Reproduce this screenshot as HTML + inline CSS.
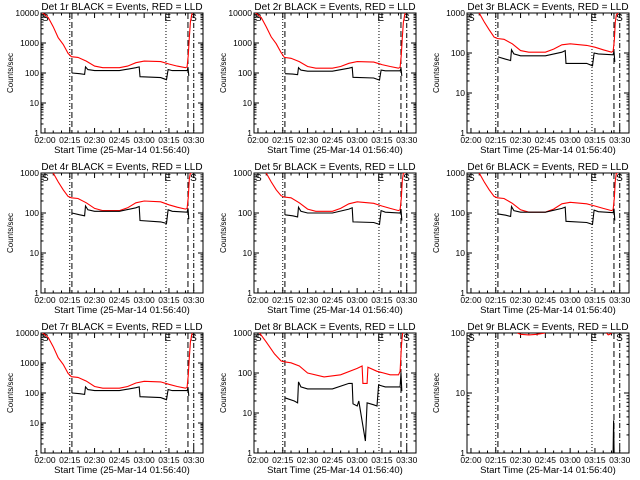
<!DOCTYPE html>
<html><head><meta charset="utf-8"><style>
html,body{margin:0;padding:0;background:#fff;}
svg{display:block;font-family:"Liberation Sans",sans-serif;}
</style></head><body>
<svg id="chart" width="640" height="480" viewBox="0 0 640 480" xmlns="http://www.w3.org/2000/svg"></svg>
<script>
// shared time arrays (minutes after 02:00)
const redT   = [-2.4,-1.3,2,5,8,11,14,16,20,25,30,35,45,50,55,60,70,75,80,85,86,86.7,87.3,88,89];
const blackT = [16.3,21,24,24.5,26,30,45,55,57,57.5,70,73.5,74.5,77,86,86.5,87];
const titles = ["Det 1r","Det 2r","Det 3r","Det 4r","Det 5r","Det 6r","Det 7r","Det 8r","Det 9r"];
const yDecades = [4,4,3,3,3,3,4,3,2];
const red1 = [12000,10000,7000,3500,1500,900,450,350,330,250,170,150,150,170,220,250,240,200,170,150,160,400,1500,5000,10000];
const red2 = [12000,10000,7000,3500,1600,950,480,330,310,240,165,145,145,165,210,240,230,190,165,145,155,400,1500,5000,10000];
const red3 = [2500,2000,1600,1000,600,380,250,230,220,170,115,105,105,125,160,170,155,140,120,105,110,200,600,900,1000];
const red4 = [2500,2000,1600,1000,600,380,260,240,230,180,130,115,115,135,180,200,190,160,140,125,130,250,700,1000,1000];
const red5 = [2500,2000,1600,1000,600,380,270,250,240,180,125,110,110,130,170,190,175,150,130,115,120,230,650,1000,1000];
const red6 = [2500,2000,1600,1000,600,380,260,240,230,175,120,105,105,125,170,185,170,150,130,115,120,230,650,1000,1000];
const red7 = [12000,10000,7000,3500,1500,900,450,350,330,250,165,145,145,165,215,245,235,195,165,145,155,400,1500,5000,10000];
const black1 = [100,95,90,160,130,120,120,150,160,75,70,60,130,120,120,150,80];
const black2 = [95,92,88,150,125,115,115,145,155,72,68,58,125,118,118,145,80];
const black3 = [80,70,65,120,95,85,85,105,115,55,55,48,100,95,90,110,60];
const black4 = [100,90,85,150,120,110,110,135,145,65,60,55,120,110,105,130,70];
const black5 = [90,85,80,140,110,100,100,125,135,60,58,52,115,105,100,125,65];
const black6 = [95,88,82,145,115,105,105,130,140,62,58,52,118,108,102,128,65];
const black7 = [100,95,90,160,130,120,120,150,160,75,70,60,130,120,120,150,80];
// panel 8 has its own shape
const red8T = [-2.4,1,5,10,14,16,20,25,30,40,50,60,63,63.5,66,66.5,72,80,85,86,86.8,87.5];
const red8  = [2000,1000,600,300,200,190,180,150,100,80,90,130,150,55,55,140,110,90,90,110,500,1000];
const black8T = [16.3,22,24,24.5,26,30,45,55,57,57.5,60,61,65,66,70,72,73,77,86,86.5,87];
const black8  = [24,20,18,60,45,40,40,55,55,17,15,20,2,18,16,15,50,45,45,100,35];
// panel 9
const red9T = [28,30,35,40,45];
const red9  = [100,95,93,95,100];
const red9bT = [82,83,84,85];
const red9b = [100,93,95,100];
const black9T = [86,86.3,86.6];
const black9  = [1,3.5,1];
const xTicks = [0,15,30,45,60,75,90];
const xTickLabels = ["02:00","02:15","02:30","02:45","03:00","03:15","03:30"];
const vDotted = [15,73.2];
const vDashed = [16.3,86.5];
const vDashDot = [90];

const svg = document.getElementById('chart');
const NS = "http://www.w3.org/2000/svg";
function mk(tag, attrs, parent){
  const e = document.createElementNS(NS, tag);
  for (const k in attrs) e.setAttribute(k, attrs[k]);
  (parent||svg).appendChild(e);
  return e;
}
const XMIN=-2.4, XMAX=95.6;
const redSeries=[[redT,red1],[redT,red2],[redT,red3],[redT,red4],[redT,red5],[redT,red6],[redT,red7],[red8T,red8],[red9T,red9]];
const blackSeries=[[blackT,black1],[blackT,black2],[blackT,black3],[blackT,black4],[blackT,black5],[blackT,black6],[blackT,black7],[black8T,black8],[black9T,black9]];

for (let p=0;p<9;p++){
  const ox = (p%3)*213, oy = Math.floor(p/3)*160;
  const L=ox+41, R=ox+203, T=oy+13, B=oy+133;
  const dec = yDecades[p];
  const xs = t => L + (t-XMIN)/(XMAX-XMIN)*(R-L);
  const ys = v => B - Math.log10(Math.max(v,1e-3))/dec*(B-T);
  const g = mk('g',{});
  
  
  const clipId='c'+p;
  const cp = mk('clipPath',{id:clipId},g); mk('rect',{x:L,y:T,width:R-L,height:B-T},cp);
  const tt = mk('text',{x:(L+R)/2,y:oy+10,'text-anchor':'middle','font-size':10},g);
  tt.textContent = titles[p]+" BLACK = Events, RED = LLD";
  
  
  const fr = mk('rect',{x:L,y:T,width:R-L,height:B-T,fill:'none',stroke:'#000','stroke-width':1},g);
  
  
  xTicks.forEach((t,i)=>{
    const x=xs(t);
    mk('line',{x1:x,y1:B,x2:x,y2:B-5,stroke:'#000'},g);
    mk('line',{x1:x,y1:T,x2:x,y2:T+5,stroke:'#000'},g);
    const lb=mk('text',{x:x,y:B+10,'text-anchor':'middle','font-size':8.5},g);
    lb.textContent=xTickLabels[i];
    
    
  });
  for(let t=5;t<95;t+=5){ if(t%15){ const x=xs(t);
    mk('line',{x1:x,y1:B,x2:x,y2:B-2.5,stroke:'#000'},g);
    mk('line',{x1:x,y1:T,x2:x,y2:T+2.5,stroke:'#000'},g);}}
  for(let d=0;d<=dec;d++){
    const y=ys(Math.pow(10,d));
    mk('line',{x1:L,y1:y,x2:L+5,y2:y,stroke:'#000'},g);
    mk('line',{x1:R,y1:y,x2:R-5,y2:y,stroke:'#000'},g);
    const lb=mk('text',{x:L-2,y:y+3,'text-anchor':'end','font-size':8.5},g);
    lb.textContent=String(Math.pow(10,d));
    
    
    if(d<dec) for(let m=2;m<10;m++){ const ym=ys(m*Math.pow(10,d));
      mk('line',{x1:L,y1:ym,x2:L+2.5,y2:ym,stroke:'#000'},g);
      mk('line',{x1:R,y1:ym,x2:R-2.5,y2:ym,stroke:'#000'},g);}
  }
  const yl=mk('text',{x:ox+13,y:(T+B)/2,'text-anchor':'middle','font-size':8,transform:`rotate(-90 ${ox+13} ${(T+B)/2})`},g);
  yl.textContent='Counts/sec';
  
  
  const xl=mk('text',{x:(L+R)/2,y:oy+153,'text-anchor':'middle','font-size':9.5},g);
  xl.textContent='Start Time (25-Mar-14 01:56:40)';
  
  
  vDotted.forEach(t=>mk('line',{x1:xs(t),y1:T,x2:xs(t),y2:B,stroke:'#000','stroke-dasharray':'1,2'},g));
  vDashed.forEach(t=>mk('line',{x1:xs(t),y1:T,x2:xs(t),y2:B,stroke:'#000','stroke-dasharray':'6,3'},g));
  vDashDot.forEach(t=>mk('line',{x1:xs(t),y1:T,x2:xs(t),y2:B,stroke:'#000','stroke-dasharray':'5,2,1,2'},g));
  [['S',-1.8],['E',72.2],['S',87.8]].forEach(([s,t])=>{
    const m=mk('text',{x:xs(t),y:T+8,'font-size':10},g); m.textContent=s;
    
    
  });
  const cg = mk('g',{'clip-path':`url(#${clipId})`},g);
  const line=(arr,col,name)=>{
    const [tx,vy]=arr;
    const pth=mk('polyline',{points:tx.map((t,i)=>xs(t).toFixed(1)+','+ys(vy[i]).toFixed(1)).join(' '),fill:'none',stroke:col,'stroke-width':1.1},cg);
    
    
  };
  line(redSeries[p],'#ff0000','lld-red-line');
  if(p===8) line([red9bT,red9b],'#ff0000','lld-red-line-2');
  line(blackSeries[p],'#000000','events-black-line');
}
</script>
</body></html>
